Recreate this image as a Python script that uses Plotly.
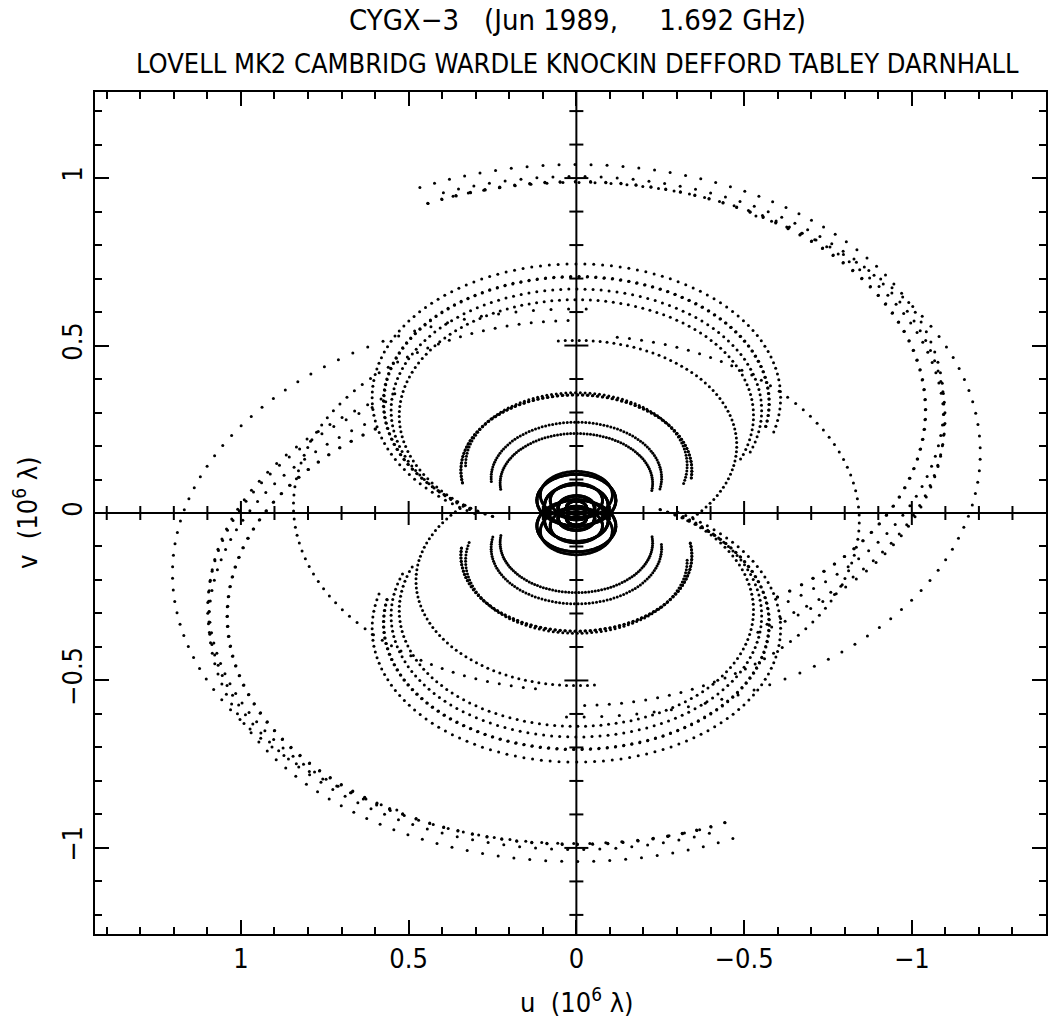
import numpy as np
import plotly.graph_objects as go

# Array and observation
stations = ["LOVELL", "MK2", "CAMBRIDG", "WARDLE", "KNOCKIN", "DEFFORD", "TABLEY", "DARNHALL"]
lat_deg = [53.2362, 53.2340, 52.1670, 53.1000, 52.7900, 52.0910, 53.2900, 53.1563]
lon_deg = [-2.3071, -2.3041, 0.0370, -2.5600, -2.9972, -2.1431, -2.4300, -2.5342]
# hour angle (at the Lovell meridian) over which each telescope took data
ha_on_h = [-12.0, -12.0, -5.7, -12.0, -3.3, -10.7, -12.0, -12.0]
ha_off_h = [12.0, 12.0, 5.7, 12.0, 9.8, 6.3, 12.0, 12.0]
# baselines whose data window differs from the telescopes' common window
baseline_windows = {("CAMBRIDG", "KNOCKIN"): (-3.3, 7.1)}
source = "CYGX-3"
dec_deg = 40.959
freq_ghz = 1.692
ha_step_min = 10.0

u_ticks = [1, 0.5, 0, -0.5, -1]
u_ticktext = ["1", "0.5", "0", "\u22120.5", "\u22121"]
v_ticks = [-1, -0.5, 0, 0.5, 1]
v_ticktext = ["\u22121", "\u22120.5", "0", "0.5", "1"]

# ---- geometry -------------------------------------------------------------
wavelength = 299792458.0 / (freq_ghz * 1e9)
a_wgs, e2 = 6378137.0, 6.69438e-3
lat = np.radians(lat_deg)
lon = np.radians(lon_deg)
nrad = a_wgs / np.sqrt(1 - e2 * np.sin(lat) ** 2)
ecef = np.stack([nrad * np.cos(lat) * np.cos(lon),
                 nrad * np.cos(lat) * np.sin(lon),
                 nrad * (1 - e2) * np.sin(lat)], axis=1)
ref = np.radians(lon_deg[0])
rot = np.array([[np.cos(ref), np.sin(ref), 0], [-np.sin(ref), np.cos(ref), 0], [0, 0, 1]])
local = ecef @ rot.T / wavelength / 1e6  # in 10^6 wavelengths

dec = np.radians(dec_deg)
us, vs = [], []
for i in range(len(stations)):
    for j in range(i + 1, len(stations)):
        h0 = max(ha_on_h[i], ha_on_h[j])
        h1 = min(ha_off_h[i], ha_off_h[j])
        h0, h1 = baseline_windows.get((stations[i], stations[j]), (h0, h1))
        if h1 <= h0:
            continue
        ha = np.radians(15 * np.arange(h0, h1 + 1e-9, ha_step_min / 60.0))
        bx, by, bz = local[j] - local[i]
        u = np.sin(ha) * bx + np.cos(ha) * by
        v = -np.sin(dec) * np.cos(ha) * bx + np.sin(dec) * np.sin(ha) * by + np.cos(dec) * bz
        us += list(u) + list(-u)
        vs += list(v) + list(-v)

fig = go.Figure()
fig.add_trace(go.Scatter(x=us, y=vs, mode="markers",
                         marker=dict(color="black", size=3, line=dict(width=0)),
                         hoverinfo="skip", showlegend=False))

xr = [1.435, -1.40]
yr = [-1.257, 1.257]
font = "DejaVu Sans Condensed, DejaVu Sans, sans-serif"
nb = "\u00a0"

axis_common = dict(showgrid=False, zeroline=False, showline=True, linecolor="black", linewidth=2,
                   mirror="ticks", ticks="inside", ticklen=14, tickwidth=2, tickcolor="black",
                   minor=dict(ticks="inside", ticklen=7, tickwidth=1.5, tickcolor="black", dtick=0.1),
                   tickfont=dict(family=font, size=27, color="black"))
fig.update_xaxes(range=xr, tickvals=u_ticks, ticktext=u_ticktext, **axis_common)
fig.update_yaxes(range=yr, tickvals=v_ticks, ticktext=v_ticktext, tickangle=-90, **axis_common)

# axes through the origin, with ticks across them
shapes = [dict(type="line", xref="x", yref="paper", x0=0, x1=0, y0=0, y1=1,
               line=dict(color="black", width=2)),
          dict(type="line", xref="paper", yref="y", x0=0, x1=1, y0=0, y1=0,
               line=dict(color="black", width=2))]
for k in range(-14, 15):
    t = k / 10.0
    half = 12 if k % 5 == 0 else 7
    if yr[0] < t < yr[1] and k != 0:
        shapes.append(dict(type="line", xref="x", yref="y", xsizemode="pixel", xanchor=0,
                           x0=-half, x1=half, y0=t, y1=t, line=dict(color="black", width=2)))
    if min(xr) < t < max(xr) and k != 0:
        shapes.append(dict(type="line", xref="x", yref="y", ysizemode="pixel", yanchor=0,
                           y0=-half, y1=half, x0=t, x1=t, line=dict(color="black", width=2)))

title1 = f"CYGX\u22123{nb*3}(Jun 1989,{nb*5}1.692 GHz)"
title2 = " ".join(stations)
annotations = [
    dict(text=title1, x=0.507, y=1, xref="paper", yref="paper", xanchor="center", yanchor="middle",
         yshift=72, showarrow=False, font=dict(family=font, size=29, color="black")),
    dict(text=title2, x=0.507, y=1, xref="paper", yref="paper", xanchor="center", yanchor="middle",
         yshift=29, showarrow=False, font=dict(family=font, size=27, color="black")),
    dict(text=f"u{nb*2}(10<sup>6</sup> \u03bb)", x=0.507, y=0, xref="paper", yref="paper",
         xanchor="center", yanchor="middle", yshift=-66, showarrow=False,
         font=dict(family=font, size=27, color="black")),
    dict(text=f"v{nb*2}(10<sup>6</sup> \u03bb)", x=0, y=0.5, xref="paper", yref="paper",
         xanchor="center", yanchor="middle", xshift=-70, showarrow=False, textangle=-90,
         font=dict(family=font, size=27, color="black")),
]

fig.update_layout(width=1049, height=1023, margin=dict(l=95, r=1, t=92, b=89),
                  paper_bgcolor="white", plot_bgcolor="white",
                  shapes=shapes, annotations=annotations)
fig.write_html("out.html")
